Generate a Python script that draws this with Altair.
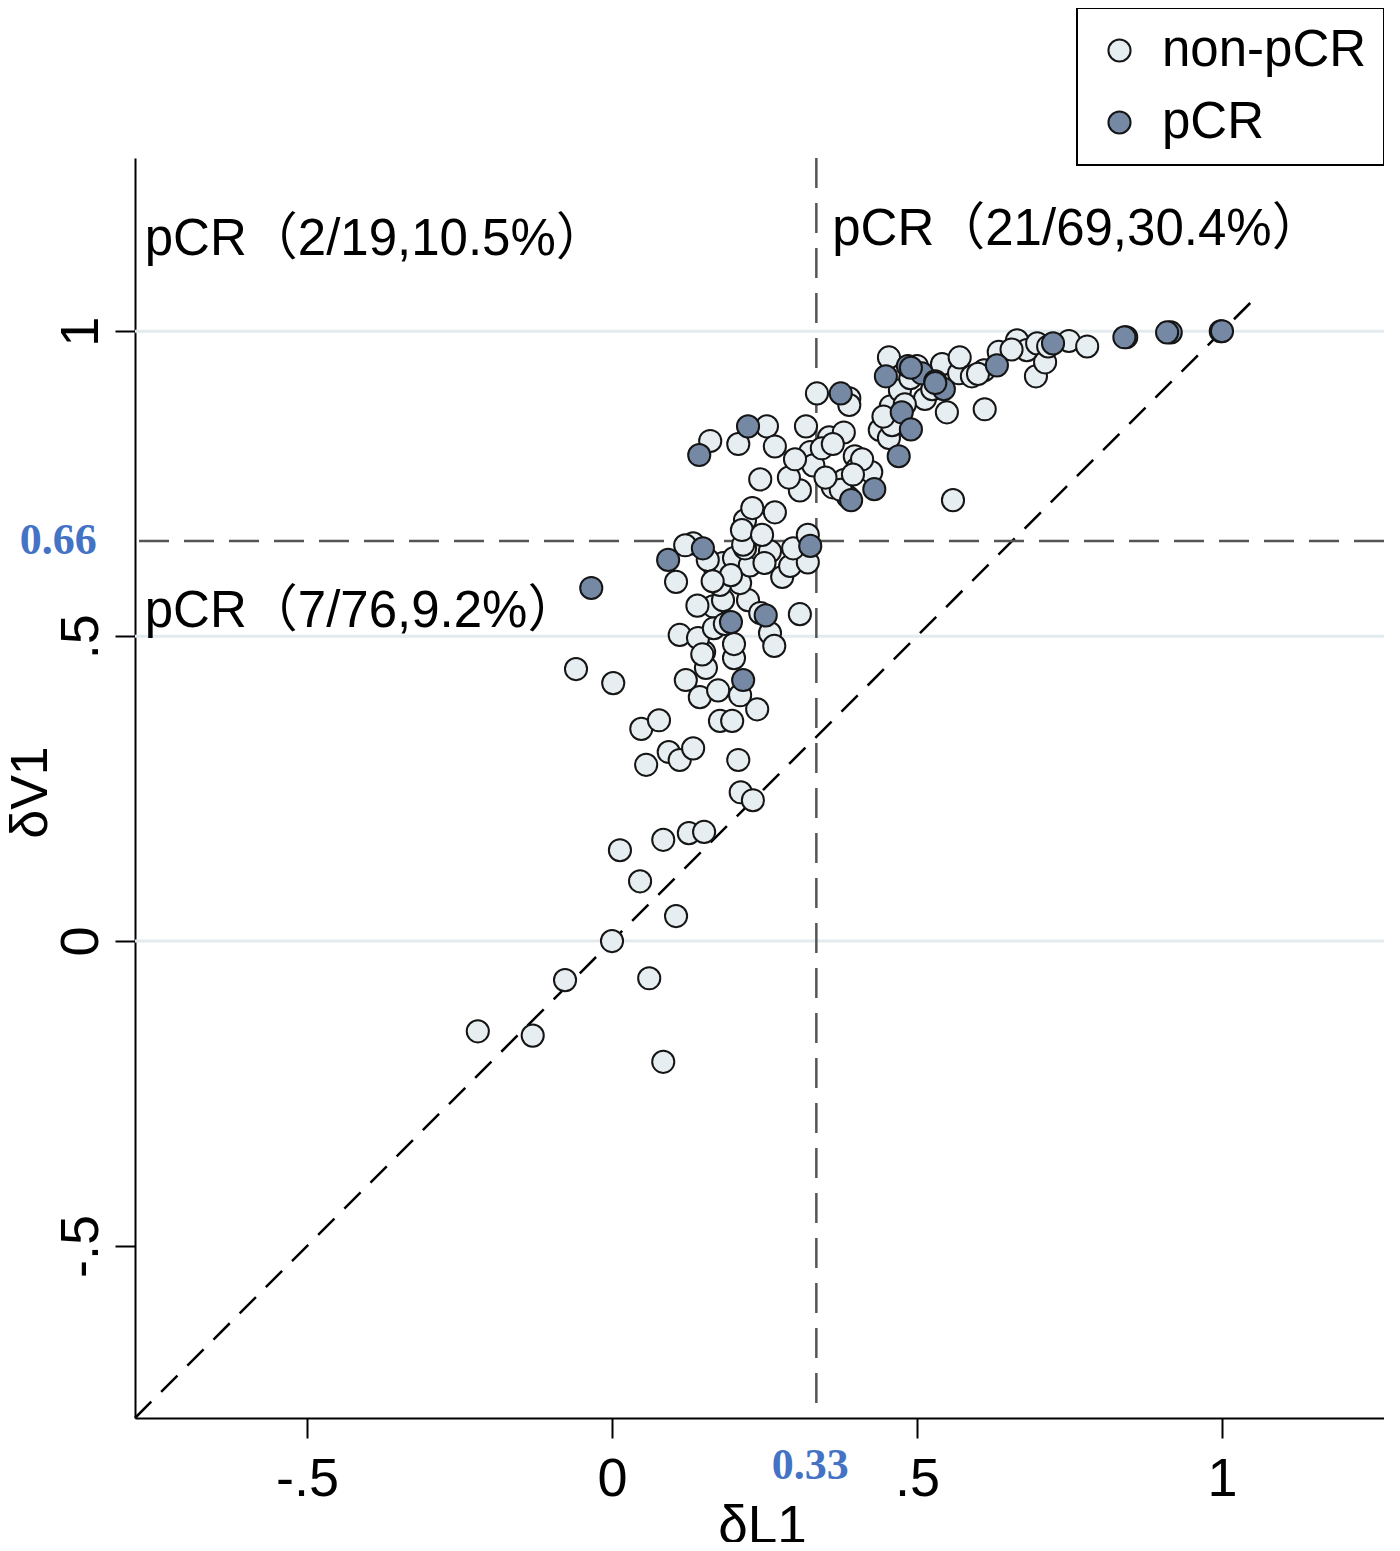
import altair as alt
import pandas as pd

# ---------------- data ----------------
nonpcr_x = [
    -0.22, -0.13, -0.077, 0.061, 0.084, 0.0, 0.105, 0.046, 0.013, 0.084,
    0.126, 0.151, 0.211, 0.231, 0.207, 0.056, 0.093, 0.111, 0.133, 0.048,
    0.077, -0.059, 0.002, 0.177, 0.197, 0.238,
    0.121, 0.144, 0.174, 0.154, 0.151, 0.200, 0.200, 0.210, 0.111, 0.141,
    0.167, 0.166, 0.182, 0.223, 0.210, 0.243, 0.259, 0.266, 0.308, 0.105,
    0.133, 0.169, 0.182, 0.200, 0.226, 0.239, 0.259, 0.279, 0.292, 0.321,
    0.297, 0.218, 0.157, 0.120, 0.177, 0.195, 0.215, 0.148, 0.185, 0.140,
    0.250, 0.165,
    0.161, 0.207, 0.254, 0.267, 0.243, 0.267, 0.218, 0.213, 0.308, 0.318,
    0.325, 0.321, 0.246, 0.330, 0.290, 0.300, 0.230,
    0.336, 0.389, 0.389, 0.356, 0.380, 0.344, 0.362, 0.398, 0.402, 0.425,
    0.362, 0.380, 0.387, 0.375, 0.439, 0.454, 0.457, 0.454, 0.459, 0.472,
    0.500, 0.513, 0.541, 0.549, 0.569, 0.570, 0.590, 0.611, 0.559, 0.610,
    0.634, 0.664, 0.680, 0.695, 0.697, 0.710, 0.715, 0.749, 0.779, 0.489,
    0.525, 0.445, 0.410, 0.350, 0.600, 0.655, 0.480, 0.395,
]
nonpcr_y = [
    -0.148, -0.155, -0.064, -0.061, -0.198, 0.0, 0.041, 0.098, 0.149, 0.166,
    0.177, 0.179, 0.244, 0.231, 0.297, 0.289, 0.310, 0.297, 0.316, 0.348,
    0.362, 0.446, 0.423, 0.361, 0.361, 0.380,
    0.428, 0.400, 0.411, 0.448, 0.474, 0.464, 0.487, 0.403, 0.502, 0.497,
    0.513, 0.549, 0.559, 0.559, 0.587, 0.538, 0.505, 0.484, 0.536, 0.589,
    0.652, 0.611, 0.620, 0.628, 0.616, 0.644, 0.639, 0.597, 0.615, 0.621,
    0.644, 0.644, 0.625, 0.649, 0.584, 0.600, 0.650, 0.470, 0.520, 0.550,
    0.620, 0.590,
    0.820, 0.815, 0.844, 0.811, 0.757, 0.703, 0.690, 0.674, 0.739, 0.844,
    0.802, 0.666, 0.666, 0.780, 0.760, 0.790, 0.710,
    0.898, 0.890, 0.879, 0.826, 0.834, 0.808, 0.815, 0.795, 0.775, 0.769,
    0.744, 0.756, 0.728, 0.740, 0.838, 0.957, 0.877, 0.825, 0.846, 0.903,
    0.943, 0.889, 0.946, 0.867, 0.931, 0.957, 0.926, 0.872, 0.723, 0.936,
    0.966, 0.985, 0.969, 0.926, 0.980, 0.949, 0.975, 0.984, 0.975, 0.923,
    0.905, 0.860, 0.790, 0.760, 0.930, 0.970, 0.880, 0.765,
]
pcr_x = [
    -0.034, 0.092, 0.149, 0.143, 0.223, 0.195, 0.252, 0.215, 0.325, 0.375,
    0.392, 0.430, 0.449, 0.470, 0.475, 0.490, 0.485, 0.508, 0.530, 0.544,
    0.631, 0.723, 0.843, 0.916, 0.998, 0.910, 1.000, 0.840, 0.490, 0.530,
]
pcr_y = [
    0.579, 0.625, 0.644, 0.797, 0.844, 0.523, 0.534, 0.428, 0.648, 0.898,
    0.723, 0.741, 0.926, 0.795, 0.867, 0.839, 0.943, 0.931, 0.918, 0.905,
    0.944, 0.980, 0.990, 0.998, 1.000, 0.998, 1.000, 0.990, 0.940, 0.915,
]
groups = ["non-pCR", "pCR"]
group_colors = ["#e6eef1", "#7589a5"]

x_domain = [-0.782, 1.2656]
y_domain = [-0.782, 1.284]
tick_values = [-0.5, 0, 0.5, 1]
tick_labels = ["-.5", "0", ".5", "1"]
grid_values = [0, 0.5, 1]
cut_x = 0.335
cut_y = 0.656
diag_start = -0.782
diag_end = 1.055

quad_text = ["pCR（2/19,10.5%）", "pCR（21/69,30.4%）", "pCR（7/76,9.2%）"]
quad_x = [-0.766, 0.361, -0.766]
quad_y = [1.125, 1.141, 0.515]

cut_text = ["0.66", "0.33"]
cut_text_x = [-0.908, 0.325]
cut_text_y = [0.656, -0.861]

# ---------------- frames ----------------
pts = pd.DataFrame({
    "dL1": nonpcr_x + pcr_x,
    "dV1": nonpcr_y + pcr_y,
    "group": [groups[0]] * len(nonpcr_x) + [groups[1]] * len(pcr_x),
})
grid_df = pd.DataFrame({"dV1": grid_values})
vline_df = pd.DataFrame({"dL1": [cut_x]})
hline_df = pd.DataFrame({"dV1": [cut_y]})
diag_df = pd.DataFrame({"dL1": [diag_start, diag_end], "dV1": [diag_start, diag_end]})
quad_df = pd.DataFrame({"dL1": quad_x, "dV1": quad_y, "label": quad_text})
cut_df = pd.DataFrame({"dL1": cut_text_x, "dV1": cut_text_y, "label": cut_text})

label_expr = " : ".join(
    f"datum.value == {v} ? '{t}'" for v, t in zip(tick_values, tick_labels)
) + " : ''"

SANS = "Liberation Sans"

x_axis = alt.Axis(
    values=tick_values, labelExpr=label_expr, title="δL1",
    labelFont=SANS, labelFontSize=54, labelColor="black",
    labelBaseline="alphabetic", labelPadding=57, labelAlign="center",
    tickSize=20, tickColor="black", tickWidth=2,
    domainColor="black", domainWidth=2, grid=False,
    titleFont=SANS, titleFontSize=53, titleFontWeight="normal", titleColor="black",
    titleX=627, titleY=124, titleBaseline="alphabetic", titleAlign="center",
)
y_axis = alt.Axis(
    values=tick_values, labelExpr=label_expr, title="δV1",
    labelFont=SANS, labelFontSize=54, labelColor="black",
    labelAngle=270, labelBaseline="alphabetic", labelAlign="center", labelPadding=18,
    tickSize=20, tickColor="black", tickWidth=2,
    domainColor="black", domainWidth=2, grid=False,
    titleFont=SANS, titleFontSize=52, titleFontWeight="normal", titleColor="black",
    titleAngle=270, titleX=-89, titleY=634, titleBaseline="alphabetic", titleAlign="center",
)
xs = alt.Scale(domain=x_domain, nice=False, zero=False)
ys = alt.Scale(domain=y_domain, nice=False, zero=False)


def X():
    return alt.X("dL1:Q", scale=xs, axis=x_axis)


def Y():
    return alt.Y("dV1:Q", scale=ys, axis=y_axis)


grid = alt.Chart(grid_df).mark_rule(color="#e3ebee", strokeWidth=3).encode(y=Y())

vline = alt.Chart(vline_df).mark_rule(
    color="#555555", strokeWidth=2.5, strokeDash=[30, 15]
).encode(x=X())
hline = alt.Chart(hline_df).mark_rule(
    color="#555555", strokeWidth=2.5, strokeDash=[30, 15]
).encode(y=Y())

diag = alt.Chart(diag_df).mark_line(
    color="black", strokeWidth=2.5, strokeDash=[23, 14]
).encode(x=X(), y=Y())

points = alt.Chart(pts).mark_point(
    filled=True, shape="circle", size=490, stroke="#151515", strokeWidth=2, opacity=1
).encode(
    x=X(), y=Y(),
    color=alt.Color(
        "group:N",
        scale=alt.Scale(domain=groups, range=group_colors),
        legend=alt.Legend(
            title=None, orient="none", legendX=942, legendY=-150,
            direction="vertical",
        ),
    ),
)

quad = alt.Chart(quad_df).mark_text(
    align="left", baseline="alphabetic", fontSize=51,
    font="'Liberation Sans', 'Noto Sans CJK SC'", color="black",
).encode(x=X(), y=Y(), text="label:N")

cuts = alt.Chart(cut_df).mark_text(
    align="center", baseline="middle", fontSize=44, fontWeight="bold",
    font="Liberation Serif", color="#4472c4",
).encode(x=X(), y=Y(), text="label:N")

chart = alt.layer(grid, diag, vline, hline, points, quad, cuts).properties(
    width=1249, height=1260,
    autosize=alt.AutoSizeParams(type="none"),
    padding={"left": 127, "top": 150, "right": 0, "bottom": 124},
    background="white",
).configure_view(stroke=None).configure_legend(
    strokeColor="black", strokeWidth=2, padding=17, rowPadding=20,
    labelFont=SANS, labelFontSize=51, labelColor="black", labelOffset=17,
    labelLimit=0,
    symbolType="circle", symbolSize=490, symbolStrokeColor="#151515",
    symbolStrokeWidth=2, symbolOpacity=1, fillColor="white",
)

chart.save("out.html", embed_options={"renderer": "svg", "actions": False})
